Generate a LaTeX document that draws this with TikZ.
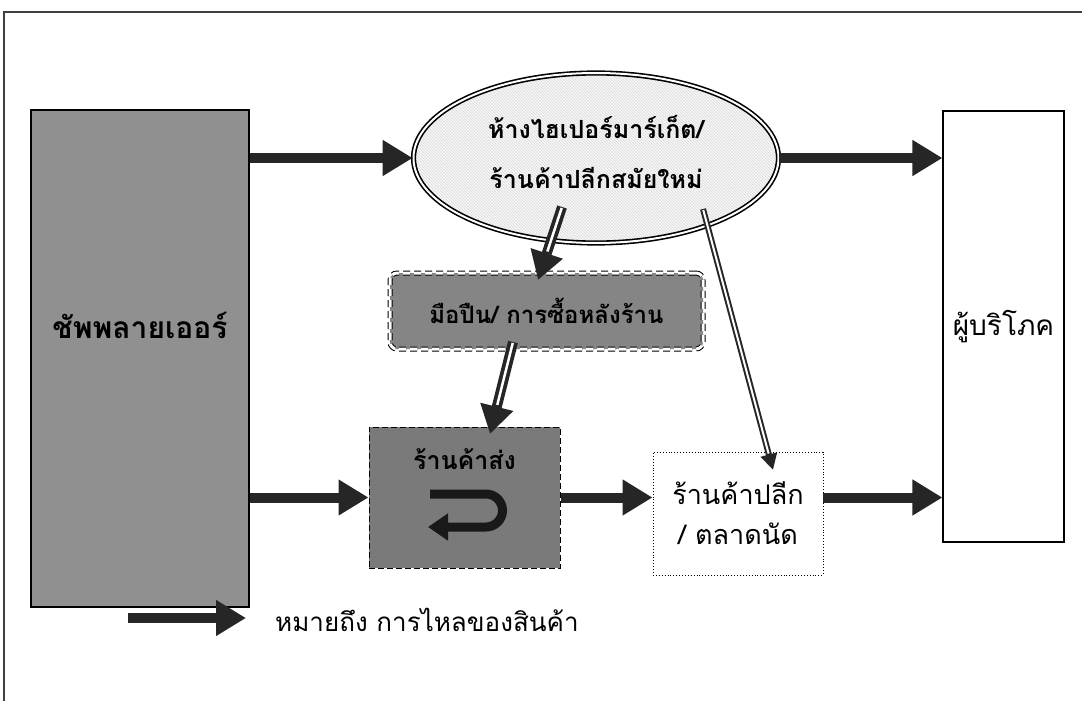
\documentclass[tikz,border=0pt]{standalone}
\usepackage{fontspec}
\newfontfamily\thai[Script=Thai]{Loma}
\usetikzlibrary{arrows.meta,shapes.geometric,patterns}
\definecolor{supgray}{HTML}{909090}
\definecolor{midgray}{HTML}{858585}
\definecolor{whsgray}{HTML}{7A7A7A}
\definecolor{arrowgray}{HTML}{262626}
\begin{document}
\begin{tikzpicture}[x=1pt,y=-1pt,
  flow/.style={line width=10pt, draw=arrowgray, -{Triangle[length=30pt,width=34pt]}},
  dblflow/.style={draw=arrowgray, line width=10pt, -{Triangle[length=28pt,width=32pt]},
     postaction={draw=white, line width=2.5pt, shorten >=30pt, shorten <=1pt, -}},
  thinflow/.style={draw=arrowgray, line width=6pt, -{Triangle[length=16pt,width=16pt]},
     postaction={draw=white, line width=2pt, shorten >=17pt, shorten <=1pt, -}},
  plainbox/.style={draw, line width=1.1pt, inner sep=0pt},
]
\useasboundingbox (0,0) rectangle (1082,701);
\draw[line width=1.2pt, black!75] (4,701) -- (4,12) -- (1082,12);

% nodes
\node[plainbox, fill=supgray, minimum width=218pt, minimum height=497pt,
      label={[font=\thai\bfseries\fontsize{30}{36}\selectfont, yshift=33pt]center:ชัพพลายเออร์}] (sup) at (140,358.5) {};
\node[plainbox, minimum width=121pt, minimum height=431pt,
      font=\thai\fontsize{28}{34}\selectfont] (con) at (1003.5,326.5) {ผู้บริโภค};
\node[ellipse, draw, line width=1.6pt, double=white, double distance=2pt,
      minimum width=365pt, minimum height=170pt, inner sep=0pt,
      preaction={fill=gray!6}, pattern=north west lines, pattern color=gray!30,
      label={[align=center, font=\thai\bfseries\fontsize{25}{50}\selectfont, yshift=6pt]center:ห้างไฮเปอร์มาร์เก็ต/\\ร้านค้าปลีกสมัยใหม่}] (ell) at (596,158) {};
\node[draw, line width=1pt, dash pattern=on 7pt off 4pt, double=white, double distance=3pt,
      rounded corners=7pt, fill=midgray, minimum width=313pt, minimum height=76pt, inner sep=0pt,
      font=\thai\bfseries\fontsize{24}{28}\selectfont] (mid) at (546.5,311) {มือปืน/ การซื้อหลังร้าน};
\node[draw, line width=1pt, dash pattern=on 6pt off 3pt, fill=whsgray,
      minimum width=191pt, minimum height=141pt, inner sep=0pt,
      label={[font=\thai\bfseries\fontsize{25}{30}\selectfont, yshift=38pt]center:ร้านค้าส่ง}] (whs) at (464.5,497.5) {};
\node[draw, line width=0.9pt, dotted, fill=white, minimum width=170pt, minimum height=123pt, inner sep=0pt,
      align=center, font=\thai\fontsize{27}{40}\selectfont] (ret) at (738,513.5) {ร้านค้าปลีก\\/ ตลาดนัด};

% U-turn arrow inside wholesale box
\coordinate (u1) at (430,494);
\coordinate (u2) at (486,494);
\coordinate (u3) at (428,527);
\draw[line width=9pt, draw=black!90, -{Triangle[length=20pt,width=26pt]}]
  (u1) -- (u2) arc[start angle=-90, end angle=90, radius=16.5] -- (u3);

% horizontal flows
\draw[flow] (sup.east |- ell.west) -- (ell.west);
\draw[flow] (ell.east) -- (ell.east -| con.west);
\draw[flow] (sup.east |- whs.east) -- (whs.west);
\draw[flow] (whs.east) -- (whs.east -| ret.west);
\draw[flow] (ret.east |- whs.east) -- (con.west |- whs.east);

% slanted flows
\coordinate (e1) at (562,207);
\coordinate (m1) at (538,280);
\coordinate (m2) at (513,342);
\coordinate (w1) at (490,434);
\coordinate (e2) at (703,209);
\coordinate (r1) at (773,470);
\draw[dblflow] (e1) -- (m1);
\draw[dblflow] (m2) -- (w1);
\draw[thinflow] (e2) -- (r1);

% legend
\coordinate (la) at (128,618);
\coordinate (lb) at (246,618);
\draw[flow] (la) -- (lb);
\node[anchor=west, font=\thai\fontsize{26}{30}\selectfont, inner sep=0pt] (leg) at (275,620) {หมายถึง การไหลของสินค้า};
\end{tikzpicture}
\end{document}
